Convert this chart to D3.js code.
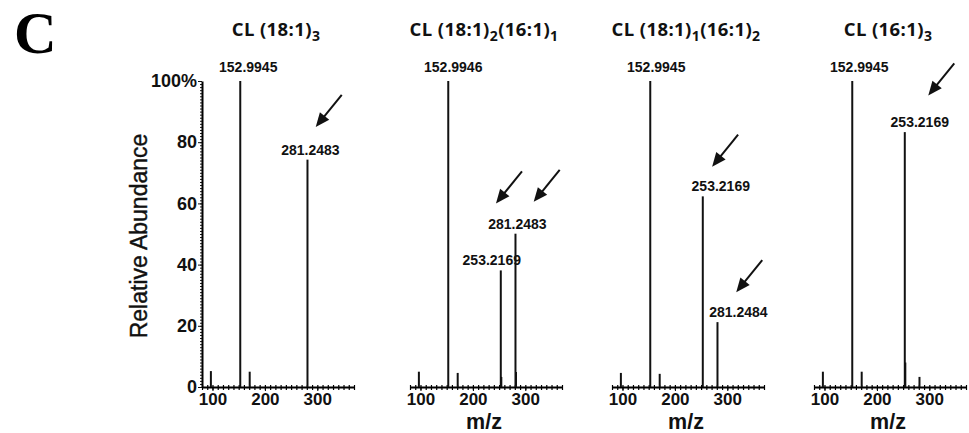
<!DOCTYPE html>
<html>
<head>
<meta charset="utf-8">
<script src="https://cdn.jsdelivr.net/npm/d3@7"></script>
<style>
  body { margin: 0; background: #fff; }
  svg { display: block; }
</style>
</head>
<body>
<svg id="chart" width="969" height="433"></svg>
<script>
// title of each spectrum, as [text, isSubscript] pieces
const titleParts = [
  [['CL (18:1)', 0], ['3', 1]],
  [['CL (18:1)', 0], ['2', 1], ['(16:1)', 0], ['1', 1]],
  [['CL (18:1)', 0], ['1', 1], ['(16:1)', 0], ['2', 1]],
  [['CL (16:1)', 0], ['3', 1]]
];

// peaks: m/z, relative abundance (%), label text
const peakMz = [
  [96.96, 152.9945, 171.0, 281.2483],
  [96.96, 152.9946, 171.0, 253.2169, 254.22, 281.2483, 282.25],
  [96.96, 152.9945, 171.0, 253.2169, 281.2484],
  [96.96, 152.9945, 171.0, 253.2169, 254.22, 281.25]
];
const peakAbund = [
  [5.2, 100, 5.0, 74.3],
  [5.0, 100, 4.6, 38.1, 3.3, 50.1, 4.9],
  [4.6, 100, 4.3, 62.3, 21.2],
  [5.0, 100, 5.0, 83.3, 8.0, 3.3]
];
const peakLabels = [
  ['', '152.9945', '', '281.2483'],
  ['', '152.9946', '', '253.2169', '', '281.2483', ''],
  ['', '152.9945', '', '253.2169', '281.2484'],
  ['', '152.9945', '', '253.2169', '', '']
];

// arrow tips in data units [m/z, abundance]
const arrowTips = [
  [[297, 85]],
  [[244, 60], [316, 60.5]],
  [[271, 72], [317, 31]],
  [[298, 95.3]]
];

const xTicks = [100, 200, 300];
const yTicks = [0, 20, 40, 60, 80, 100];
const mzDomain = [80, 370];

// layout
const panelLeft = [202, 410, 612, 814];
const panelWidth = 152;
const yTop = 81, yBase = 387;
const labelShift = [[0, 8, 0, 3], [0, 5, 0, -9, 0, 2, 0], [0, 6, 0, 18, 21], [0, 7, 0, 15, 0, 0]];

const svg = d3.select('#chart');
const sans = 'Liberation Sans, Arial, sans-serif';

const y = d3.scaleLinear().domain([0, 100]).range([yBase, yTop]);

svg.append('text')
  .attr('x', 14)
  .attr('y', 53)
  .style('font-family', 'Liberation Serif, Times New Roman, serif')
  .style('font-weight', 'bold')
  .style('font-size', '59px')
  .text('C');

// y axis, only on the first panel
const yAxisG = svg.append('g').attr('transform', `translate(${panelLeft[0]},0)`);
yAxisG.call(d3.axisLeft(y).tickValues(d3.range(0, 101, 1)).tickSize(2).tickFormat('').tickSizeOuter(0));
yAxisG.call(g => g.select('.domain').remove());
const yMajor = svg.append('g').attr('transform', `translate(${panelLeft[0]},0)`)
  .call(d3.axisLeft(y).tickValues(yTicks).tickSize(4).tickPadding(1).tickSizeOuter(0)
    .tickFormat(d => d === 100 ? '100%' : d));
yMajor.select('.domain').attr('stroke-width', 2);
yMajor.selectAll('text')
  .style('font-family', sans).style('font-weight', 'bold').style('font-size', '18px').attr('fill', '#111');
svg.selectAll('.tick line').attr('stroke', '#111');

svg.append('text')
  .attr('transform', `translate(147,236) rotate(-90)`)
  .attr('text-anchor', 'middle')
  .style('font-family', sans)
  .style('font-size', '23px')
  .attr('fill', '#111')
  .attr('stroke', '#111')
  .attr('stroke-width', 0.4)
  .text('Relative Abundance');

titleParts.forEach((parts, i) => {
  const x = d3.scaleLinear().domain(mzDomain).range([panelLeft[i], panelLeft[i] + panelWidth]);
  const g = svg.append('g');

  // title
  const t = g.append('text')
    .attr('x', panelLeft[i] + panelWidth / 2 - 2)
    .attr('y', 36)
    .attr('text-anchor', 'middle')
    .style('font-family', 'Open Sans, sans-serif')
    .style('font-weight', 'bold')
    .style('font-size', '18.5px')
    .style('letter-spacing', '0.4px')
    .attr('fill', '#111');
  let shifted = false;
  parts.forEach(([txt, sub]) => {
    const ts = t.append('tspan').text(txt);
    if (sub && !shifted) { ts.attr('dy', 5).style('font-size', '14px'); shifted = true; }
    else if (!sub && shifted) { ts.attr('dy', -5); shifted = false; }
    else if (sub) ts.style('font-size', '14px');
  });

  // x axis with minor ticks
  const minor = g.append('g').attr('transform', `translate(0,${yBase})`);
  minor.call(d3.axisBottom(x).tickValues(d3.range(80, 371, 10)).tickSize(3).tickFormat('').tickSizeOuter(0));
  minor.select('.domain').attr('stroke-width', 2);
  minor.selectAll('.tick line').attr('y1', -2).attr('stroke-width', 1.2);
  const major = g.append('g').attr('transform', `translate(0,${yBase})`)
    .call(d3.axisBottom(x).tickValues(xTicks).tickSize(4).tickPadding(2).tickSizeOuter(0));
  major.select('.domain').remove();
  major.selectAll('text')
    .style('font-family', sans).style('font-weight', 'bold').style('font-size', '17px').attr('fill', '#111');

  if (i > 0) {
    g.append('text')
      .attr('x', panelLeft[i] + panelWidth / 2 - 2)
      .attr('y', 429)
      .attr('text-anchor', 'middle')
      .style('font-family', sans)
      .style('font-weight', 'bold')
      .style('font-size', '21.5px')
      .attr('fill', '#111')
      .text('m/z');
  }

  // peaks
  const peaks = peakMz[i].map((mz, j) => ({ mz, v: peakAbund[i][j], label: peakLabels[i][j], dx: labelShift[i][j] }));
  g.selectAll('line.peak')
    .data(peaks)
    .join('line')
    .attr('class', 'peak')
    .attr('x1', d => x(d.mz))
    .attr('x2', d => x(d.mz))
    .attr('y1', y(0))
    .attr('y2', d => y(d.v))
    .attr('stroke', '#111')
    .attr('stroke-width', 2);

  g.selectAll('text.peak-label')
    .data(peaks.filter(d => d.label))
    .join('text')
    .attr('class', 'peak-label')
    .attr('x', d => x(d.mz) + d.dx)
    .attr('y', d => y(d.v) - (d.v === 100 ? 9 : 5))
    .attr('text-anchor', 'middle')
    .style('font-family', sans)
    .style('font-weight', 'bold')
    .style('font-size', '14px')
    .attr('fill', '#111')
    .text(d => d.label);

  // arrows
  arrowTips[i].forEach(([mz, v]) => {
    const tx = x(mz), ty = y(v);
    const sx = tx + 26, sy = ty - 32;
    const len = Math.hypot(tx - sx, ty - sy);
    const ux = (tx - sx) / len, uy = (ty - sy) / len;
    const headLen = 14, headW = 6;
    const bx = tx - ux * headLen, by = ty - uy * headLen;
    g.append('line')
      .attr('x1', sx).attr('y1', sy)
      .attr('x2', bx + ux * 2).attr('y2', by + uy * 2)
      .attr('stroke', '#111')
      .attr('stroke-width', 2);
    g.append('path')
      .attr('d', `M${tx},${ty}L${bx - uy * headW},${by + ux * headW}L${bx + uy * headW},${by - ux * headW}Z`)
      .attr('fill', '#111');
  });
});
</script>
</body>
</html>
